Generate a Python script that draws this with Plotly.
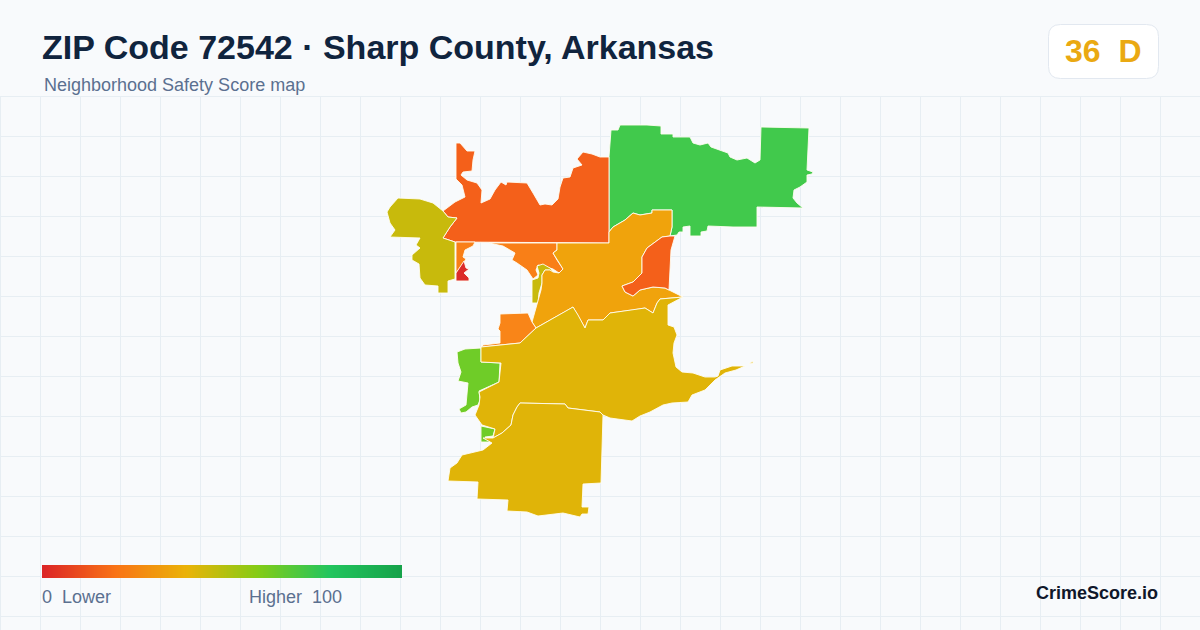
import plotly.graph_objects as go

TITLE = "ZIP Code 72542 · Sharp County, Arkansas"
SUBTITLE = "Neighborhood Safety Score map"
SCORE = "36"
GRADE = "D"
BRAND = "CrimeScore.io"

COLORSCALE_STOPS = [0, 0.2, 0.4, 0.6, 0.8, 1]
COLORSCALE_COLORS = ["#dc2626", "#f97316", "#eab308", "#84cc16", "#22c55e", "#16a34a"]
LEGEND_VALUES = list(range(0, 101))

NORTHEAST = [(611,130),(618,130),(620,125),(647,125),(661,126),(661,134),(673,134),(673,137),(690,137),(693,143),(700,145),(708,143),(711,147),(728,153),(730,157),(737,160),(747,158),(755,163),(760,160),(761,127),(809,128),(807,170),(813,172),(812,174),(807,175),(807,182),(800,187),(794,190),(793,198),(797,203),(803,208),(757,207),(757,227),(733,227),(708,226),(707,231),(701,232),(701,236),(690,236),(690,226),(683,227),(683,232),(679,232),(677,235),(670,236),(672,227),(672,210),(652,210),(652,213),(640,215),(633,213),(625,220),(613,227),(609,232),(609,157)]
NORTHWEST = [(456,143),(460,143),(467,151),(475,151),(473,160),(472,171),(463,172),(461,175),(467,180),(477,183),(482,190),(481,203),(490,199),(495,190),(501,182),(506,185),(507,182),(527,183),(533,193),(540,205),(545,204),(552,205),(558,199),(560,187),(563,178),(570,177),(573,168),(582,165),(577,159),(583,152),(592,154),(600,157),(609,157),(609,243),(455,242),(443,238),(450,227),(457,218),(448,217),(443,211),(455,202),(465,197),(462,185),(456,179)]
WEST = [(398,198),(420,199),(433,203),(443,211),(448,217),(457,218),(450,227),(443,238),(455,242),(455,279),(448,281),(448,293),(438,293),(438,286),(425,285),(420,278),(419,264),(412,260),(412,255),(420,248),(416,245),(420,238),(390,237),(395,230),(390,223),(387,212),(390,207)]
STRIP = [(456,242),(475,242),(473,246),(465,250),(463,257),(466,259),(462,265),(456,273)]
POCKET = [(464,261),(466,268),(469,269),(464,273),(469,278),(469,281),(456,281),(456,273)]
NORTH_CENTRAL = [(489,243),(557,243),(557,250),(553,253),(557,260),(563,269),(559,273),(553,269),(547,267),(538,265),(536,270),(538,275),(533,279),(527,270),(517,263),(512,260),(515,253),(503,246)]
HOOK = [(537,266),(543,264),(550,268),(555,273),(559,273),(553,272),(550,270),(545,270),(542,275),(542,283),(539,293),(538,303),(532,303),(532,280),(538,278),(539,273)]
CENTRAL = [(609,243),(609,232),(613,227),(625,220),(633,213),(640,215),(652,213),(652,210),(672,210),(672,227),(670,236),(662,237),(647,248),(642,257),(642,273),(633,282),(622,286),(625,292),(633,296),(640,290),(653,287),(665,288),(673,292),(683,297),(660,299),(657,303),(653,313),(645,308),(633,310),(610,313),(603,320),(588,320),(585,328),(578,315),(573,307),(568,310),(550,320),(536,328),(532,322),(537,303),(541,290),(542,283),(542,275),(545,270),(550,270),(553,272),(559,273),(563,269),(557,260),(553,253),(557,250),(557,243)]
EAST_POCKET = [(670,236),(675,236),(671,250),(669,290),(665,288),(653,287),(640,290),(633,296),(625,292),(622,286),(633,282),(642,273),(642,257),(647,248),(662,237)]
SOUTH_WEDGE = [(500,314),(528,313),(532,322),(536,328),(520,343),(500,345),(481,347),(483,345),(500,343),(500,331),(498,329),(500,323)]
LIME_MAIN = [(465,349),(481,348),(481,362),(500,363),(499,382),(479,391),(480,400),(478,405),(472,407),(466,412),(461,413),(459,409),(466,405),(468,383),(458,381),(461,372),(458,363),(457,352)]
LIME_SMALL = [(481,426),(495,429),(493,436),(485,437),(490,442),(481,442)]
MIDDLE = [(481,347),(520,343),(536,328),(550,320),(568,310),(573,307),(578,315),(585,328),(588,320),(603,320),(610,313),(633,310),(645,308),(653,313),(657,303),(660,299),(683,297),(668,305),(668,325),(674,327),(677,335),(674,343),(673,353),(676,367),(682,372),(693,373),(705,377),(715,377),(718,376),(720,370),(732,366),(745,366),(736,370),(725,373),(715,380),(705,390),(692,395),(688,402),(672,403),(663,405),(650,412),(640,416),(632,421),(610,418),(603,415),(600,412),(568,408),(565,404),(520,403),(517,407),(513,415),(511,425),(502,433),(493,438),(495,429),(482,425),(475,415),(479,405),(480,397),(479,392),(499,382),(501,363),(481,362)]
SOUTH = [(520,403),(565,404),(568,408),(600,412),(603,415),(602,450),(601,483),(583,484),(582,507),(589,507),(588,514),(582,514),(580,517),(563,513),(553,514),(538,516),(527,512),(507,511),(508,500),(477,499),(478,482),(448,481),(450,468),(457,463),(462,455),(483,450),(492,443),(483,438),(493,438),(502,433),(511,425),(513,415),(517,407)]
SPECK = [(749,364),(753,361),(753,363)]

REGIONS = [
    (NORTHEAST, "#41c94c"), (NORTHWEST, "#f4601a"), (WEST, "#c8ba0c"), (STRIP, "#f97f17"),
    (POCKET, "#dc2c2a"), (NORTH_CENTRAL, "#f97f17"), (HOOK, "#c8ba0c"), (CENTRAL, "#f0a30c"),
    (EAST_POCKET, "#f4601a"), (SOUTH_WEDGE, "#f98518"), (LIME_MAIN, "#6fcc28"), (LIME_SMALL, "#6fcc28"),
    (MIDDLE, "#e0b408"), (SOUTH, "#e0b408"), (SPECK, "#e0b408"),
]

GRID_XS = [0.5 + 40 * i for i in range(0, 30)]
GRID_YS = [96.5 + 40 * i for i in range(0, 14)]

fig = go.Figure()

shapes = []
for x in GRID_XS:
    shapes.append(dict(type="line", xref="x", yref="y", x0=x, x1=x, y0=96.5, y1=630, layer="below",
                       line=dict(color="#e7eef3", width=1)))
for y in GRID_YS:
    shapes.append(dict(type="line", xref="x", yref="y", x0=0, x1=1200, y0=y, y1=y, layer="below",
                       line=dict(color="#e7eef3", width=1)))
shapes.append(dict(type="path", xref="x", yref="y",
                   path="M1060.5,24.5 H1146.5 Q1158.5,24.5 1158.5,36.5 V66.5 Q1158.5,78.5 1146.5,78.5 H1060.5 Q1048.5,78.5 1048.5,66.5 V36.5 Q1048.5,24.5 1060.5,24.5 Z",
                   fillcolor="#ffffff", line=dict(color="#e2e8f0", width=1), layer="above"))

for pts, col in REGIONS:
    xs = [p[0] for p in pts] + [pts[0][0]]
    ys = [p[1] for p in pts] + [pts[0][1]]
    fig.add_trace(go.Scatter(x=xs, y=ys, mode="lines", fill="toself", fillcolor=col,
                             line=dict(color="#fffdf0", width=0.9), hoverinfo="skip"))

fig.add_trace(go.Heatmap(z=[LEGEND_VALUES], x0=43.78, dx=3.564, y0=571.5, dy=13, zmin=0, zmax=100,
                         zsmooth="best", showscale=False, hoverinfo="skip",
                         colorscale=[[s, c] for s, c in zip(COLORSCALE_STOPS, COLORSCALE_COLORS)]))

FONT = "Liberation Sans, Arial, sans-serif"
def text(x, y, s, size, color, anchor="left", bold=False):
    fig.add_annotation(x=x, y=y, text=f"<b>{s}</b>" if bold else s, xref="x", yref="y", showarrow=False,
                       xanchor=anchor, yanchor="middle", borderpad=0, borderwidth=0,
                       font=dict(family=FONT, size=size, color=color))

text(42, 47, TITLE, 34, "#10243e", bold=True)
text(44, 85, SUBTITLE, 18, "#5b7090")
text(1102.5, 51, f"{SCORE}\u00a0\u00a0{GRADE}", 32, "#eaa912", anchor="center", bold=True)
text(42, 597, "0\u00a0\u00a0Lower", 18, "#5b7090")
text(342, 597, "Higher\u00a0\u00a0100", 18, "#5b7090", anchor="right")
text(1158, 593, BRAND, 18, "#0f172a", anchor="right", bold=True)

fig.update_layout(
    width=1200, height=630, margin=dict(l=0, r=0, t=0, b=0),
    paper_bgcolor="#f8fafc", plot_bgcolor="#f8fafc", showlegend=False,
    xaxis=dict(range=[0, 1200], visible=False, fixedrange=True),
    yaxis=dict(range=[630, 0], visible=False, fixedrange=True),
    shapes=shapes,
)
fig.write_html("out.html", config={"displayModeBar": False},
               post_script="document.body.style.margin='0';")
